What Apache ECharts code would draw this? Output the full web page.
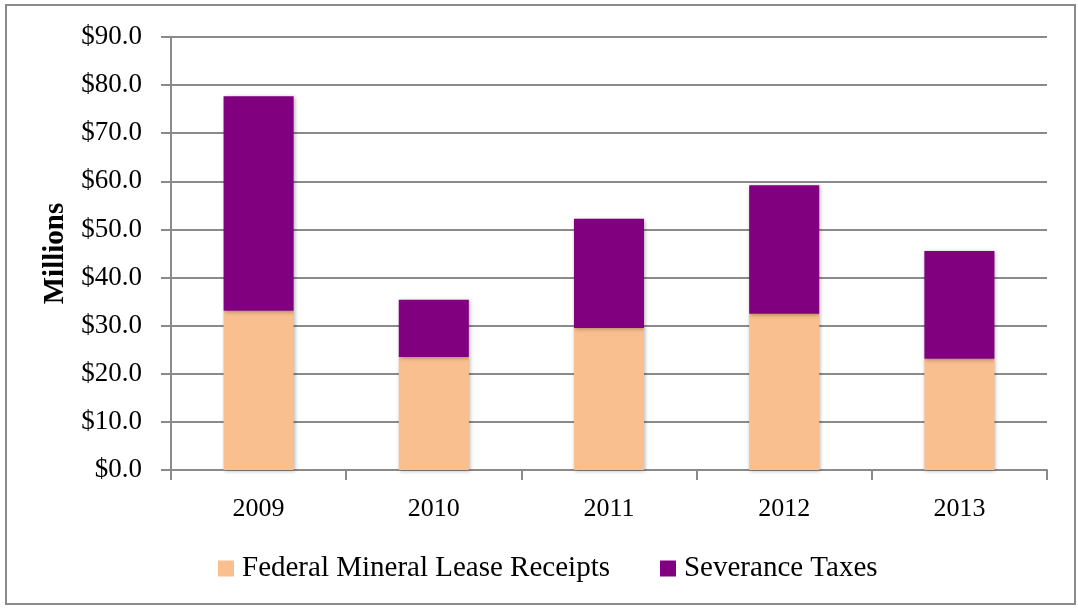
<!DOCTYPE html>
<html>
<head>
<meta charset="utf-8">
<script src="https://cdn.jsdelivr.net/npm/echarts@6/dist/echarts.min.js"></script>
<style>
html,body{margin:0;padding:0;background:#fff;}
#c{width:1078px;height:608px;}
</style>
</head>
<body>
<div id="c"></div>
<script>
const categories = ['2009', '2010', '2011', '2012', '2013'];
const federalMineralLease = [33.1, 23.5, 29.5, 32.5, 23.1];
const severanceTaxes = [44.6, 11.9, 22.7, 26.7, 22.4];
const seriesNames = ['Federal Mineral Lease Receipts', 'Severance Taxes'];
const yTicks = { min: 0, max: 90, interval: 10 };

const FONT = '"Liberation Serif", "DejaVu Serif", serif';
const chart = echarts.init(document.getElementById('c'));
const barShadow = { shadowBlur: 4, shadowColor: 'rgba(0,0,0,0.3)', shadowOffsetX: 1, shadowOffsetY: 1 };

chart.setOption({
  animation: false,
  backgroundColor: '#fff',
  graphic: [{
    type: 'rect', z: 100, silent: true,
    shape: { x: 6, y: 5, width: 1069, height: 599 },
    style: { fill: 'none', stroke: '#8a8a8a', lineWidth: 2 }
  }],
  grid: { left: 171, right: 31, top: 37, bottom: 138, containLabel: false },
  legend: {
    data: seriesNames,
    left: 218,
    top: 554,
    padding: 0,
    itemWidth: 16,
    itemHeight: 16,
    itemGap: 50,
    icon: 'rect',
    textStyle: { fontFamily: FONT, fontSize: 29, color: '#000', padding: [0, 0, 0, 3] }
  },
  xAxis: {
    type: 'category',
    data: categories,
    axisLine: { lineStyle: { color: '#8a8a8a', width: 2 } },
    axisTick: { show: true, length: 10, lineStyle: { color: '#8a8a8a', width: 2 } },
    axisLabel: { fontFamily: FONT, fontSize: 26, color: '#000', margin: 26 }
  },
  yAxis: {
    type: 'value',
    min: yTicks.min, max: yTicks.max, interval: yTicks.interval,
    name: 'Millions',
    nameLocation: 'middle',
    nameGap: 98,
    nameTextStyle: { fontFamily: FONT, fontSize: 29, fontWeight: 'bold', color: '#000' },
    axisLine: { show: true, lineStyle: { color: '#8a8a8a', width: 2 } },
    axisTick: { show: true, length: 10, lineStyle: { color: '#8a8a8a', width: 2 } },
    splitLine: { lineStyle: { color: '#8a8a8a', width: 2 } },
    axisLabel: {
      fontFamily: FONT, fontSize: 27, color: '#000', margin: 29,
      formatter: v => '$' + v.toFixed(1)
    }
  },
  series: [
    {
      name: seriesNames[0], type: 'bar', stack: 'total', barWidth: '40%',
      data: federalMineralLease,
      itemStyle: Object.assign({ color: '#F9BF8F' }, barShadow)
    },
    {
      name: seriesNames[1], type: 'bar', stack: 'total', barWidth: '40%',
      data: severanceTaxes,
      itemStyle: Object.assign({ color: '#800080' }, barShadow)
    }
  ]
});
</script>
</body>
</html>
